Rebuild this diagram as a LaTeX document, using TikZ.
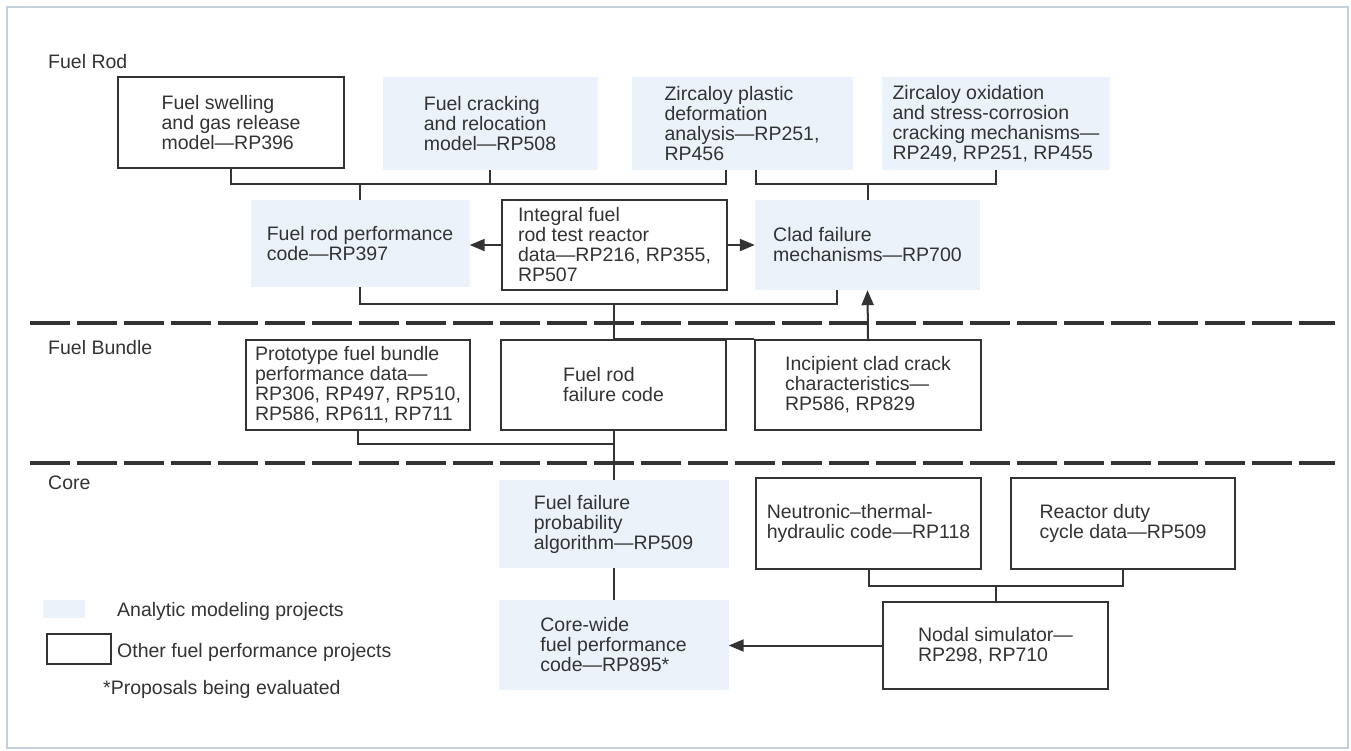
\documentclass[tikz,border=0pt]{standalone}
\usepackage{fontspec}
\setmainfont{Liberation Sans}
\usetikzlibrary{arrows.meta}
\definecolor{ink}{HTML}{333333}
\definecolor{shade}{HTML}{EBF2FA}
\definecolor{framec}{HTML}{C4D1DD}
\begin{document}
\begin{tikzpicture}[x=1pt,y=-1pt,
  font=\fontsize{19.5}{20}\selectfont, text=ink,
  box/.style={draw=ink, line width=2.5pt, align=left, inner sep=0pt},
  shaded/.style={fill=shade, align=left, inner sep=0pt},
  conn/.style={draw=ink, line width=2pt},
  arr/.style={draw=ink, line width=2pt, -{Triangle[length=15pt,width=12pt]}},
  sepline/.style={draw=ink, line width=3.5pt, dash pattern=on 40pt off 7pt},
  lbl/.style={anchor=west, inner sep=0pt}]
\useasboundingbox (0,0) rectangle (1351,750);
\draw[framec, line width=1.5pt] (7,7) rectangle (1348,748);

% section labels
\node[lbl] (lrod) at (48,62) {Fuel Rod};
\node[lbl] (lbun) at (48,348) {Fuel Bundle};
\node[lbl] (lcore) at (48,483) {Core};

% separators
\coordinate (d1s) at (30,323); \coordinate (d1e) at (1335,323);
\coordinate (d2s) at (30,463); \coordinate (d2e) at (1335,463);
\draw[sepline] (d1s) -- (d1e);
\draw[sepline] (d2s) -- (d2e);

% row 1
\node[box, minimum width=226, minimum height=91] (A) at (231,122.5)
  {Fuel swelling\\and gas release\\model—RP396};
\node[shaded, minimum width=215, minimum height=93] (B) at (490,123.5)
  {Fuel cracking\\and relocation\\model—RP508};
\node[shaded, minimum width=221, minimum height=93] (C) at (742,123.5)
  {Zircaloy plastic\\deformation\\analysis—RP251,\\RP456};
\node[shaded, minimum width=228, minimum height=93] (D) at (996,123.5)
  {Zircaloy oxidation\\and stress-corrosion\\cracking mechanisms—\\RP249, RP251, RP455};

% row 2
\node[shaded, minimum width=219, minimum height=87] (E) at (360,243.5)
  {Fuel rod performance\\code—RP397};
\node[box, minimum width=225, minimum height=90] (F) at (614.5,245)
  {Integral fuel\\rod test reactor\\data—RP216, RP355,\\RP507};
\node[shaded, minimum width=225, minimum height=90] (G) at (867.5,245)
  {Clad failure\\mechanisms—RP700};

% row 3
\node[box, minimum width=224, minimum height=90] (H) at (358,385)
  {Prototype fuel bundle\\performance data—\\RP306, RP497, RP510,\\RP586, RP611, RP711};
\node[box, minimum width=225, minimum height=90] (I) at (613.5,385)
  {Fuel rod\\failure code};
\node[box, minimum width=226, minimum height=90] (J) at (868,385)
  {Incipient clad crack\\characteristics—\\RP586, RP829};

% row 4
\node[shaded, minimum width=230, minimum height=88] (K) at (613.5,524)
  {Fuel failure\\probability\\algorithm—RP509};
\node[box, minimum width=225, minimum height=91] (L) at (868.5,523.5)
  {Neutronic–thermal-\\hydraulic code—RP118};
\node[box, minimum width=224, minimum height=91] (M) at (1123,523.5)
  {Reactor duty\\cycle data—RP509};
\node[box, minimum width=225, minimum height=87] (N) at (995.5,645.5)
  {Nodal simulator—\\RP298, RP710};
\node[shaded, minimum width=230, minimum height=90] (O) at (613.5,645)
  {Core-wide\\fuel performance\\code—RP895*};

% legend
\node[shaded, minimum width=42, minimum height=18] (legA) at (64,609) {};
\node[lbl] (legAt) at (117,611) {Analytic modeling projects};
\node[draw=ink, line width=2pt, minimum width=64, minimum height=30, inner sep=0pt] (legB) at (79,649) {};
\node[lbl] (legBt) at (117,652) {Other fuel performance projects};
\node[lbl] (legC) at (103,689) {*Proposals being evaluated};

% connectors row 1 -> row 2
\coordinate (t1) at (0,184);
\coordinate (cL) at ([xshift=-16pt]C.south);
\coordinate (cR) at ([xshift=14pt]C.south);
\draw[conn] (A.south) |- (cL |- t1) -- (cL);
\draw[conn] (B.south) -- (B.south |- t1);
\draw[conn] (E.north) -- (E.north |- t1);
\draw[conn] (cR) |- (D.south |- t1) -- (D.south);
\draw[conn] (G.north) -- (G.north |- t1);

% arrows from F
\draw[arr] (F.west) -- (F.west -| E.east);
\draw[arr] (F.east) -- (F.east -| G.west);

% row 2 -> row 3
\coordinate (t2) at (0,304);
\coordinate (gL) at ([xshift=-31pt]G.south);
\draw[conn] (E.south) |- (gL |- t2) -- (gL);
\draw[conn] (I.north) -- (I.north |- t2);
\draw[conn] (I.north) -- (J.north west);
\draw[arr] (J.north) -- (G.south);

% row 3 -> row 4
\coordinate (t3) at (0,444);
\draw[conn] (H.south) |- (I.south |- t3);
\draw[conn] (I.south) -- (K.north);
\draw[conn] (K.south) -- (O.north);

% core bracket
\coordinate (t4) at (0,586);
\draw[conn] (L.south) |- (M.south |- t4) -- (M.south);
\draw[conn] (N.north) -- (N.north |- t4);
\draw[arr] (N.west) -- (N.west -| O.east);
\end{tikzpicture}
\end{document}
